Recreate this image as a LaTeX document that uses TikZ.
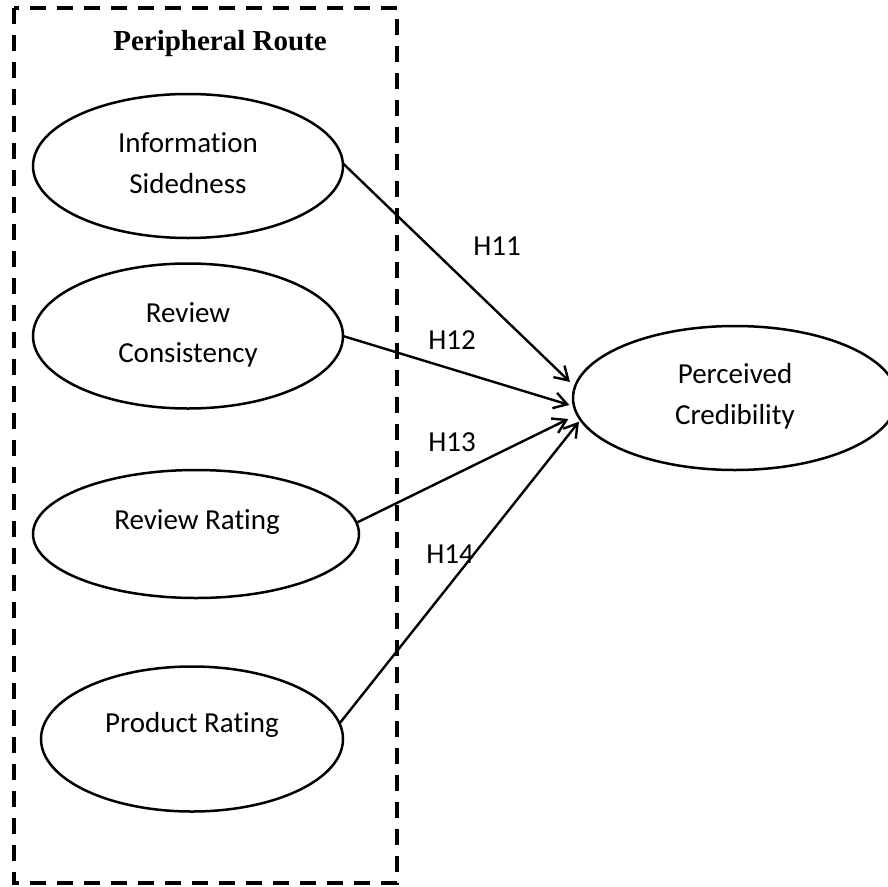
\documentclass[tikz,border=0pt]{standalone}
\usepackage{fontspec}
\setmainfont{Carlito}[RawFeature=-liga]
\newfontfamily\titlefont{Liberation Serif}
\usetikzlibrary{shapes.geometric,arrows.meta}
\begin{document}
\begin{tikzpicture}[x=1pt,y=-1pt,
  ell/.style={ellipse, draw, line width=2.5pt, inner sep=0pt, outer sep=0pt},
  txt/.style={font=\fontsize{29}{35}\selectfont, inner sep=0pt, anchor=base},
  ttl/.style={font=\titlefont\bfseries\fontsize{29}{35}\selectfont, inner sep=0pt, anchor=base},
  routebox/.style={draw, line width=4pt, dash pattern=on 16pt off 11pt},
  arr/.style={line width=2.4pt, -{Straight Barb[length=13pt,width=16pt,line width=2.4pt]}}]
\clip (0,0) rectangle (888,886);
\fill[white] (0,0) rectangle (888,886);
% dashed group box
\draw[routebox] (14,8) rectangle (397,883);
\node[ttl] (title) at (220,50) {Peripheral Route};
% ellipses
\node[ell, minimum width=310pt, minimum height=144pt] (e1) at (188,166) {};
\node[ell, minimum width=310pt, minimum height=145pt] (e2) at (188,336) {};
\node[ell, minimum width=326pt, minimum height=128pt] (e3) at (196,534) {};
\node[ell, minimum width=302pt, minimum height=145pt] (e4) at (192,739) {};
\node[ell, minimum width=324pt, minimum height=144pt] (e5) at (735,398) {};
% texts
\node[txt] (l1a) at (188,152) {Information};
\node[txt] (l1b) at (188,193) {Sidedness};
\node[txt] (l2a) at (188,322) {Review};
\node[txt] (l2b) at (188,362) {Consistency};
\node[txt] (l3) at (197,529) {Review Rating};
\node[txt] (l4) at (192,732) {Product Rating};
\node[txt] (l5a) at (735,383) {Perceived};
\node[txt] (l5b) at (735,424) {Credibility};
% hypothesis labels
\node[txt] (h11) at (497,255) {H11};
\node[txt] (h12) at (452,349) {H12};
\node[txt] (h13) at (452,451) {H13};
\node[txt] (h14) at (450,563) {H14};
% connectors
\draw[arr, shorten >=7pt] (e1.1) -- (e5.176);
\draw[arr, shorten >=5pt] (e2.east) -- (e5.183);
\draw[arr, shorten >=10pt] (e3.4) -- (e5.186);
\draw[arr, shorten >=2.5pt] (e4.6) -- (e5.188);
\end{tikzpicture}
\end{document}
